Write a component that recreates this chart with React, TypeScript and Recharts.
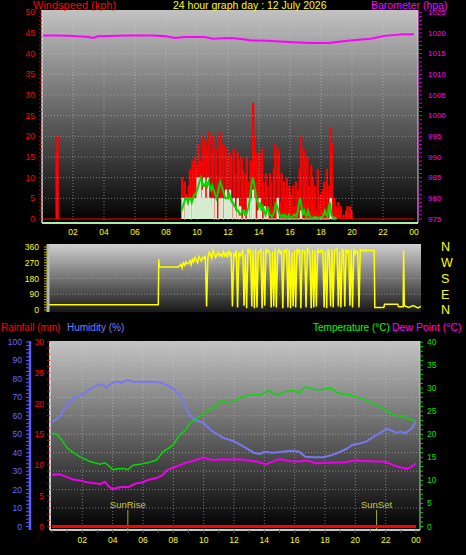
import {
  ComposedChart,
  Area,
  Line,
  XAxis,
  YAxis,
  CartesianGrid,
  ReferenceLine,
} from "recharts";

// ---------- wind (top panel), 5-minute samples from 09:00 ----------
const windStartHour = 9;
const gustKph = [
  10, 3, 9, 6, 2, 8, 12, 4, 14, 5, 15, 13,
  4, 18, 14, 5, 20, 3, 19, 17, 6, 21, 4, 16,
  20, 5, 17, 11, 3, 20, 21, 6, 18, 4, 17, 15,
  5, 16, 15, 4, 17, 11, 3, 16, 14, 5, 15, 12,
  3, 11, 15, 4, 9, 14, 5, 28, 20, 4, 16, 11,
  16, 4, 17, 9, 3, 11, 8, 2, 11, 9, 3, 12,
  18, 3, 17, 16, 4, 11, 2, 9, 4, 10, 2, 8,
  6, 2, 8, 3, 9, 2, 7, 12, 20, 3, 17, 16,
  4, 15, 8, 2, 13, 10, 3, 8, 2, 12, 4, 6,
  2, 7, 9, 2, 12, 3, 8, 22, 18, 2, 5, 3,
  2, 4, 1, 3, 0, 1, 0, 2, 3, 1, 3, 2,
  0,
];
const windKph = [
  5, 5, 0, 5, 5, 3, 5, 0, 5, 5, 3, 5,
  10, 5, 10, 5, 7, 10, 5, 5, 10, 5, 5, 3,
  5, 0, 5, 0, 0, 5, 3, 5, 0, 5, 7, 5,
  5, 7, 5, 0, 5, 2, 0, 5, 0, 3, 0, 0,
  2, 0, 0, 5, 0, 5, 0, 7, 5, 0, 0, 2,
  5, 2, 0, 0, 3, 0, 2, 0, 0, 0, 0, 0,
  0, 0, 5, 0, 0, 0, 0, 0, 0, 0, 0, 0,
  0, 0, 0, 0, 0, 0, 0, 0, 2, 0, 0, 0,
  0, 0, 0, 0, 0, 0, 0, 0, 0, 0, 0, 0,
  0, 0, 0, 0, 0, 0, 0, 5, 0, 0, 0, 0,
  0,
];
const avgKph = [
  2, 3, 4, 5, 5, 4, 5, 5, 4, 5, 6, 6,
  7, 8, 9, 10, 9, 8, 8, 9, 8, 9, 8, 7,
  8, 7, 6, 5, 6, 8, 9, 8, 7, 6, 5, 5,
  5, 6, 5, 4, 4, 3, 3, 2, 2, 1, 1, 2,
  2, 1, 1, 2, 3, 5, 8, 10, 9, 7, 5, 4,
  3, 4, 2, 3, 2, 1, 2, 3, 1, 1, 0.5, 1,
  2, 4, 3, 2, 1, 0.5, 1, 0.5, 1, 0.5, 0.3, 1,
  0.5, 0.3, 0.5, 1, 1, 0.5, 2, 4, 5, 3, 1, 2,
  1, 0.5, 2, 1, 0.3, 0.3, 0.3, 0.5, 0.5, 0.3, 0.3, 0.3,
  0.5, 0.5, 1, 2, 1, 0.5, 3, 4, 1, 0.5, 0.3, 0.3,
  0,
];
const gustEarlyHours = [0, 0.9, 0.96, 1.05];
const gustEarlyKph = [0, 16, 20, 0];

const baroHours = [
  0, 1, 2, 3, 3.3, 3.6, 4.4, 5.5, 7.1, 8, 8.6, 9.2, 9.9, 10.5, 11, 12.2, 13,
  13.5, 14.5, 15.9, 17.2, 18.5, 19.7, 21.2, 22.1, 23.3, 24,
];
const baroHpa = [
  1019.4, 1019.4, 1019.3, 1019.0, 1018.8, 1019.2, 1019.3, 1019.4, 1019.4,
  1019.2, 1018.8, 1019.0, 1019.0, 1019.0, 1018.6, 1018.8, 1018.5, 1018.2,
  1018.1, 1017.8, 1017.6, 1017.6, 1018.1, 1018.6, 1019.3, 1019.7, 1019.7,
];

// ---------- wind direction (middle panel) ----------
const dirEarlyHours = [0, 7.05, 7.08, 7.12];
const dirEarlyDeg = [30, 30, 290, 245];
const dirStartHour = 8 + 20 / 60; // 5-minute samples from 08:20
const dirDeg = [
  245, 252, 262, 240, 270, 255, 275, 262,
  268, 282, 258, 290, 275, 300, 285, 270, 305, 290, 280, 300,
  295, 310, 20, 300, 330, 315, 295, 340, 320, 300, 315, 330,
  310, 320, 305, 335, 310, 325, 300, 340, 315, 330, 20, 320,
  310, 340, 15, 330, 310, 325, 345, 25, 320, 10, 350, 330,
  340, 20, 340, 10, 350, 15, 330, 335, 345, 10, 340, 25,
  350, 330, 340, 320, 15, 335, 20, 350, 15, 330, 345, 325,
  340, 10, 340, 335, 350, 15, 345, 10, 330, 20, 340, 15,
  350, 330, 345, 10, 340, 335, 335, 15, 350, 340, 320, 10,
  345, 15, 340, 20, 350, 330, 330, 345, 335, 15, 340, 10,
  350, 330, 20, 345, 15, 340, 345, 350, 20, 335, 15, 345,
  340, 20, 350, 330, 340, 25, 345, 15, 350, 320, 340, 335,
  15, 345, 340, 342, 338, 340,
];
const dirLateHours = [20.5, 20.98, 21.02, 21.6, 21.65, 22.5, 22.55, 22.85, 22.88, 22.92, 23.2, 23.5, 23.8, 24];
const dirLateDeg = [340, 340, 15, 15, 33, 33, 18, 18, 340, 25, 15, 25, 12, 20];
const compassLabels = ["N", "E", "S", "W", "N"];

// ---------- humidity / temperature / dew point (bottom panel) ----------
const humHours = [
  0, 0.5, 1, 1.5, 2, 2.5, 3, 3.3, 3.6, 4, 4.3, 4.6, 5, 5.3, 5.8, 6.5, 7.1, 7.5,
  7.8, 8.1, 8.4, 8.8, 9.1, 9.5, 10, 10.5, 10.9, 11.3, 11.9, 12.5, 13, 13.3,
  13.7, 14, 14.5, 15.2, 15.8, 16.3, 16.7, 17.2, 17.9, 18.5, 19, 19.4, 19.8,
  20.3, 20.7, 21, 21.4, 21.8, 22.1, 22.4, 22.7, 23, 23.3, 23.7, 24,
];
const humPct = [
  56.5, 59.5, 66, 70, 71.5, 74.5, 76.5, 77, 75.5, 78, 78.5, 78, 79.5, 78.5,
  78.5, 78.5, 78, 77, 75.5, 74, 71.5, 65, 60, 57.5, 56, 52, 50, 48, 46.5, 44,
  41.5, 40, 39.3, 40.5, 40, 40.5, 41, 40.5, 37.8, 37.5, 37.5, 38.8, 40.5, 42,
  44.2, 45, 46, 47.5, 49.6, 51.5, 53, 52, 50.7, 51.4, 50.7, 53, 56.8,
];
const tempHours = [
  0, 0.3, 0.6, 1, 1.4, 1.85, 2.5, 3.2, 3.5, 3.8, 4, 4.3, 4.7, 5, 5.35, 5.8,
  6.3, 6.9, 7.3, 7.7, 8, 8.4, 8.8, 9.1, 9.7, 10.1, 10.6, 11.2, 11.5, 11.9,
  12.5, 13, 13.7, 14.3, 14.6, 15, 15.4, 15.95, 16.3, 16.7, 17, 17.3, 17.6, 18,
  18.4, 18.7, 19.1, 19.6, 20.2, 20.7, 21.2, 21.8, 22.2, 22.5, 23, 23.4, 24,
];
const tempC = [
  20.2, 20, 19, 17, 16, 15.1, 14.1, 13.5, 13.8, 13, 12.3, 12.5, 12.6, 12.3,
  13.3, 13.5, 13.8, 14.4, 16.2, 17, 17.7, 19.8, 20.9, 22.4, 23.8, 24.8, 25.6,
  27.3, 27, 27.1, 28, 28.5, 28.5, 29.5, 28.8, 28.7, 29.3, 29.5, 29, 30.3, 30,
  29.7, 29.6, 29.8, 30, 29.2, 28.8, 28.5, 28, 27.4, 26.6, 25.6, 24.8, 24.2,
  23.9, 23.5, 22.7,
];
const dewHours = [
  0, 0.5, 1, 1.4, 1.8, 2.3, 2.8, 3.2, 3.5, 3.7, 4, 4.3, 4.7, 5, 5.3, 5.6, 6,
  6.3, 6.9, 7.3, 7.6, 8.2, 8.9, 9.4, 10, 10.3, 10.6, 11.2, 11.9, 12.4, 13,
  13.5, 14.1, 14.5, 15, 15.6, 16.3, 16.8, 17.4, 18, 18.5, 19.2, 20, 20.7,
  21.3, 21.8, 22.2, 22.5, 23, 23.4, 23.7, 24,
];
const dewC = [
  11.2, 11.3, 10.7, 10.2, 10, 9.6, 9.4, 9.2, 9.7, 8.8, 8.1, 8.4, 8.6, 8.5, 9,
  9.4, 9.6, 10.1, 10.5, 11.2, 12.3, 13, 13.9, 14.3, 15, 14.6, 14.4, 14.6,
  14.5, 14.6, 14.3, 14.1, 13.5, 14, 14.6, 14.2, 14.1, 14.3, 13.7, 13.8, 13.9,
  13.9, 14.3, 14.2, 14.1, 14.1, 13.8, 13.3, 12.8, 12.5, 13, 13.7,
];
const rainHours = [0, 24];
const rainMm = [0, 0];
const sunRiseHour = 5.0;
const sunSetHour = 21.4;

const hourTicks = [2, 4, 6, 8, 10, 12, 14, 16, 18, 20, 22, 24];
const gridHours = [2, 4, 6, 8, 10, 12, 14, 16, 18, 20, 22];

const pairs = (hours: number[], vals: number[]) =>
  hours.map((t, i) => ({ t, v: vals[i] }));
const fiveMin = (start: number, vals: number[]) =>
  vals.map((v, i) => ({ t: start + i / 12, v }));

const gustData = [
  ...pairs(gustEarlyHours, gustEarlyKph),
  ...fiveMin(windStartHour, gustKph),
  { t: 24, v: 0 },
];
const windData = fiveMin(windStartHour, windKph);
const avgData = fiveMin(windStartHour, avgKph);
const baroData = pairs(baroHours, baroHpa);
const dirData = [
  ...pairs(dirEarlyHours, dirEarlyDeg),
  ...fiveMin(dirStartHour, dirDeg),
  ...pairs(dirLateHours, dirLateDeg),
];
const humData = pairs(humHours, humPct);
const tempData = pairs(tempHours, tempC);
const dewData = pairs(dewHours, dewC);
const rainData = pairs(rainHours, rainMm);

const range = (from: number, to: number, step: number) => {
  const out: number[] = [];
  for (let v = from; v <= to; v += step) out.push(v);
  return out;
};

const hh = (h: number) => String(h % 24).padStart(2, "0");
const FONT = "Liberation Sans, Arial, sans-serif";
const tickFont = { fontSize: 8.5, fontFamily: FONT };
const gridLine = { stroke: "#d0d0d0", strokeOpacity: 0.5, strokeDasharray: "1 2" };

const Title = ({ x, y, color, size, children }: any) => (
  <div
    style={{
      position: "absolute",
      left: x,
      top: y,
      color,
      fontSize: size,
      whiteSpace: "nowrap",
    }}
  >
    {children}
  </div>
);

export default function App() {
  return (
    <div
      style={{
        position: "absolute",
        left: 0,
        top: 0,
        width: 466,
        height: 555,
        background: "#000",
        overflow: "hidden",
        fontFamily: FONT,
        fontSize: 11,
        lineHeight: "11px",
      }}
    >
      {/* ---------- WIND SPEED + BAROMETER ---------- */}
      <div style={{ position: "absolute", left: 0, top: 0 }}>
        <ComposedChart width={466} height={240} margin={{ top: 10, right: 0, bottom: 0, left: 0 }}>
          <defs>
            <linearGradient id="bgTop" x1="0" y1="0" x2="0" y2="1">
              <stop offset="0" stopColor="#c2c2c2" />
              <stop offset="1" stopColor="#000000" />
            </linearGradient>
          </defs>
          <CartesianGrid horizontal={false} vertical={false} fill="url(#bgTop)" fillOpacity={1} />
          <XAxis
            dataKey="t"
            type="number"
            domain={[0, 24]}
            allowDataOverflow
            ticks={hourTicks}
            interval={0}
            tickFormatter={hh}
            padding={{ left: 0, right: 4 }}
            height={17}
            tickLine={false}
            tickSize={3}
            tickMargin={3}
            axisLine={{ stroke: "#a8eea8", strokeWidth: 2 }}
            tick={{ ...tickFont, fill: "#ffff00" }}
          />
          <YAxis
            type="number"
            domain={[-0.97, 50.56]}
            allowDataOverflow
            ticks={range(0, 50, 1)}
            interval={0}
            tickFormatter={(v: number) => (v % 5 === 0 ? String(v) : "")}
            width={42}
            tickSize={3}
            tickMargin={4}
            tickLine={{ stroke: "#cc0000" }}
            axisLine={{ stroke: "#d8d8d8", strokeWidth: 1.5 }}
            tick={{ ...tickFont, fill: "#ff0000" }}
          />
          <YAxis
            yAxisId="baro"
            orientation="right"
            type="number"
            domain={[974.03, 1025.56]}
            allowDataOverflow
            ticks={range(975, 1025, 1)}
            interval={0}
            tickFormatter={(v: number) => (v % 5 === 0 ? String(v) : "")}
            width={48}
            tickSize={4}
            tickMargin={6}
            tickLine={{ stroke: "#cc00cc" }}
            axisLine={{ stroke: "#d8d8d8", strokeWidth: 1 }}
            tick={{ fontSize: 8, fontFamily: FONT, fill: "#ff00ff" }}
          />
          {range(5, 45, 5).map((v) => (
            <ReferenceLine key={"hy" + v} y={v} {...gridLine} />
          ))}
          {gridHours.map((h) => (
            <ReferenceLine key={"hx" + h} x={h} {...gridLine} />
          ))}
          <Area
            data={gustData}
            dataKey="v"
            type="stepAfter"
            stroke="#ff0000"
            strokeWidth={1}
            fill="#ff0000"
            fillOpacity={1}
            baseValue={0}
            dot={false}
            activeDot={false}
            isAnimationActive={false}
          />
          <Area
            data={windData}
            dataKey="v"
            type="stepAfter"
            stroke="#e4f8e0"
            strokeWidth={1}
            fill="#d4ecd0"
            fillOpacity={1}
            baseValue={0}
            dot={false}
            activeDot={false}
            isAnimationActive={false}
          />
          <Line
            data={avgData}
            dataKey="v"
            type="linear"
            stroke="#00d800"
            strokeWidth={2}
            dot={false}
            activeDot={false}
            isAnimationActive={false}
          />
          <Line
            data={baroData}
            yAxisId="baro"
            dataKey="v"
            type="linear"
            stroke="#ff00ff"
            strokeWidth={2}
            dot={false}
            activeDot={false}
            isAnimationActive={false}
          />
        </ComposedChart>
      </div>

      {/* ---------- WIND DIRECTION ---------- */}
      <div style={{ position: "absolute", left: 0, top: 240 }}>
        <ComposedChart width={466} height={80} margin={{ top: 4, right: 0, bottom: 8, left: 0 }}>
          <defs>
            <linearGradient id="bgMid" x1="0" y1="0" x2="0" y2="1">
              <stop offset="0" stopColor="#d0d0d0" />
              <stop offset="1" stopColor="#181818" />
            </linearGradient>
          </defs>
          <CartesianGrid horizontal={false} vertical={false} fill="url(#bgMid)" fillOpacity={1} />
          <XAxis
            dataKey="t"
            type="number"
            domain={[0, 24]}
            allowDataOverflow
            padding={{ left: 1, right: 0 }}
            height={0}
            tick={false}
            tickLine={false}
            axisLine={{ stroke: "#b8b8b8", strokeWidth: 3 }}
          />
          <YAxis
            type="number"
            domain={[-11.4, 377]}
            allowDataOverflow
            ticks={range(0, 360, 15)}
            interval={0}
            tickFormatter={(v: number) => (v % 90 === 0 ? String(v) : "")}
            width={48}
            tickSize={4}
            tickMargin={5}
            tickLine={{ stroke: "#b0b000" }}
            axisLine={{ stroke: "#b8b8b8", strokeWidth: 3 }}
            tick={{ ...tickFont, fill: "#ffff00" }}
          />
          <YAxis
            yAxisId="compass"
            orientation="right"
            type="number"
            domain={[-11.4, 377]}
            allowDataOverflow
            ticks={[0, 90, 180, 270, 360]}
            interval={0}
            tickFormatter={(v: number) => compassLabels[v / 90]}
            width={45}
            tickLine={false}
            axisLine={false}
            tickMargin={14}
            tick={{ fontSize: 12.5, fontFamily: FONT, fill: "#ffff00" }}
          />
          {[90, 180, 270].map((v) => (
            <ReferenceLine key={"dy" + v} y={v} {...gridLine} />
          ))}
          <Line
            data={dirData}
            dataKey="v"
            type="linear"
            stroke="#ffff00"
            strokeWidth={1.5}
            dot={false}
            activeDot={false}
            isAnimationActive={false}
          />
        </ComposedChart>
      </div>

      {/* ---------- RAIN / HUMIDITY / TEMPERATURE / DEW POINT ---------- */}
      <div style={{ position: "absolute", left: 0, top: 320 }}>
        <ComposedChart width={466} height={235} margin={{ top: 21, right: 0, bottom: 0, left: 10 }}>
          <defs>
            <linearGradient id="bgBot" x1="0" y1="0" x2="0" y2="1">
              <stop offset="0" stopColor="#c4c4c4" />
              <stop offset="1" stopColor="#000000" />
            </linearGradient>
          </defs>
          <CartesianGrid
            yAxisId="a_rain"
            horizontal={false}
            vertical={false}
            fill="url(#bgBot)"
            fillOpacity={1}
          />
          <XAxis
            dataKey="t"
            type="number"
            domain={[0, 24]}
            allowDataOverflow
            ticks={range(0, 24, 1)}
            interval={0}
            tickFormatter={(h: number) => (h > 0 && h % 2 === 0 ? hh(h) : "")}
            padding={{ left: 2, right: 4 }}
            height={25}
            tickSize={3}
            tickMargin={4}
            tickLine={{ stroke: "#555555" }}
            axisLine={{ stroke: "#c8c8c8", strokeWidth: 2 }}
            tick={{ ...tickFont, fill: "#ffff00" }}
          />
          <YAxis
            yAxisId="a_rain"
            type="number"
            domain={[-0.57, 30.16]}
            allowDataOverflow
            ticks={range(0, 30, 1)}
            interval={0}
            tickFormatter={(v: number) => (v % 5 === 0 ? String(v) : "")}
            width={20}
            tickSize={3}
            tickMargin={3}
            tickLine={{ stroke: "#cc0000" }}
            axisLine={{ stroke: "#c8c8c8", strokeWidth: 2 }}
            tick={{ ...tickFont, fill: "#ff0000" }}
          />
          <YAxis
            yAxisId="b_hum"
            type="number"
            domain={[-1.9, 100.54]}
            allowDataOverflow
            ticks={range(0, 100, 2)}
            interval={0}
            tickFormatter={(v: number) => (v % 10 === 0 ? String(v) : "")}
            width={20}
            tickSize={4}
            tickMargin={4}
            tickLine={{ stroke: "#6060ff" }}
            axisLine={{ stroke: "#5a5aff", strokeWidth: 2.5 }}
            tick={{ ...tickFont, fill: "#6a6aff" }}
          />
          <YAxis
            yAxisId="temp"
            orientation="right"
            type="number"
            domain={[-0.76, 40.22]}
            allowDataOverflow
            ticks={range(0, 40, 1)}
            interval={0}
            tickFormatter={(v: number) => (v % 5 === 0 ? String(v) : "")}
            width={46}
            tickSize={3}
            tickMargin={4}
            tickLine={{ stroke: "#00cc00" }}
            axisLine={{ stroke: "#c8c8c8", strokeWidth: 1 }}
            tick={{ ...tickFont, fill: "#00e000" }}
          />
          {range(10, 90, 10).map((v) => (
            <ReferenceLine key={"by" + v} yAxisId="b_hum" y={v} {...gridLine} />
          ))}
          {gridHours.map((h) => (
            <ReferenceLine key={"bx" + h} yAxisId="b_hum" x={h} {...gridLine} />
          ))}
          <ReferenceLine
            yAxisId="temp"
            segment={[
              { x: sunRiseHour, y: -0.76 },
              { x: sunRiseHour, y: 3.6 },
            ]}
            stroke="#a8a820"
            label={{ value: "SunRise", position: "top", offset: 2, fill: "#c8c83c", fontSize: 9.5, fontFamily: FONT }}
          />
          <ReferenceLine
            yAxisId="temp"
            segment={[
              { x: sunSetHour, y: -0.76 },
              { x: sunSetHour, y: 3.6 },
            ]}
            stroke="#a8a820"
            label={{ value: "SunSet", position: "top", offset: 2, fill: "#c8c83c", fontSize: 9.5, fontFamily: FONT }}
          />
          <Line
            data={humData}
            yAxisId="b_hum"
            dataKey="v"
            type="linear"
            stroke="#7878f0"
            strokeWidth={2}
            dot={false}
            activeDot={false}
            isAnimationActive={false}
          />
          <Line
            data={tempData}
            yAxisId="temp"
            dataKey="v"
            type="linear"
            stroke="#00dd00"
            strokeWidth={1.5}
            dot={false}
            activeDot={false}
            isAnimationActive={false}
          />
          <Line
            data={dewData}
            yAxisId="temp"
            dataKey="v"
            type="linear"
            stroke="#ee00ee"
            strokeWidth={2}
            dot={false}
            activeDot={false}
            isAnimationActive={false}
          />
          <Line
            data={rainData}
            yAxisId="a_rain"
            dataKey="v"
            type="linear"
            stroke="#ff0000"
            strokeWidth={3}
            dot={false}
            activeDot={false}
            isAnimationActive={false}
          />
        </ComposedChart>
      </div>

      {/* ---------- TITLES ---------- */}
      <Title x={33} y={0} size={11} color="#ff0000">Windspeed (kph)</Title>
      <Title x={173} y={0} size={10.5} color="#ffff00">24 hour graph day : 12 July 2026</Title>
      <Title x={371} y={0} size={10.5} color="#ff00ff">Barometer (hpa)</Title>
      <Title x={1} y={322} size={10} color="#ff0000">Rainfall (mm)</Title>
      <Title x={67} y={322} size={10} color="#7b7bff">Humidity (%)</Title>
      <Title x={313} y={322} size={10} color="#00ff00">Temperature (°C)</Title>
      <Title x={392} y={322} size={10.5} color="#ff00ff">Dew Point (°C)</Title>
    </div>
  );
}
